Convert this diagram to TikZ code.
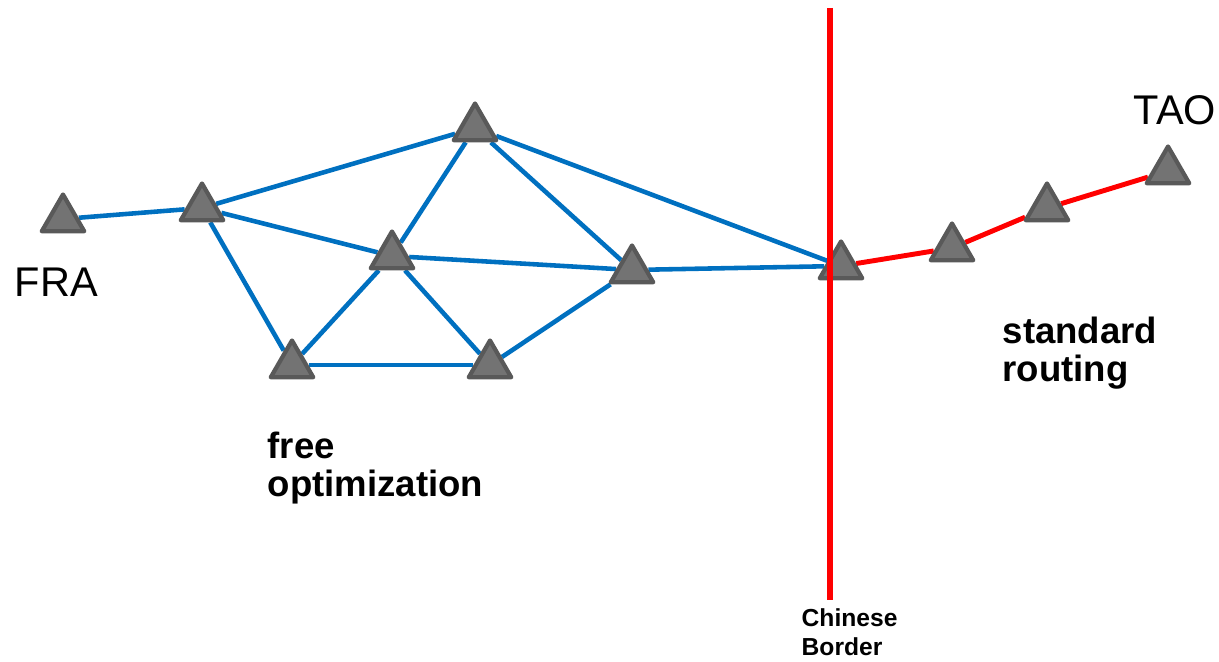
\documentclass[tikz,border=0pt]{standalone}
\usepackage{fontspec}
\setmainfont{Liberation Sans}
\usetikzlibrary{shapes.geometric}
\pgfdeclarelayer{background}
\pgfsetlayers{background,main}
\definecolor{linkblue}{HTML}{0070C0}
\definecolor{nodegray}{HTML}{737373}
\definecolor{nodeedge}{HTML}{595959}
\tikzset{
  site/.style={regular polygon, regular polygon sides=3, minimum size=0.49cm,
    inner sep=0pt, fill=nodegray, draw=nodeedge, line width=1.2pt, line join=round},
  free/.style={linkblue, line width=1.3pt},
  std/.style={red, line width=1.4pt},
  border/.style={red, line width=1.5pt},
  lbl/.style={anchor=base west, inner sep=0pt, align=left}
}
\begin{document}
\begin{tikzpicture}[x=0.01cm, y=-0.01cm]
  \useasboundingbox (0,0) rectangle (1219,662);
  % sites
  \node[site] (fra) at (63,219) {};
  \node[site] (a) at (202,208) {};
  \node[site] (b) at (475,128) {};
  \node[site] (c) at (392,256) {};
  \node[site] (d) at (632,270) {};
  \node[site] (e) at (292,365) {};
  \node[site] (f) at (490,365) {};
  \node[site] (g) at (841,266) {};
  \node[site] (h) at (952,248) {};
  \node[site] (i) at (1047,208) {};
  \node[site] (tao) at (1168,171) {};
  \begin{pgfonlayer}{background}
    \draw[free] (fra) -- (a);
    \draw[free] (a) -- (b);
    \draw[free] (a) -- (c);
    \draw[free] (a) -- (e);
    \draw[free] (b) -- (c);
    \draw[free] (b) -- (d);
    \draw[free] (b) -- (g);
    \draw[free] (c) -- (d);
    \draw[free] (c) -- (e);
    \draw[free] (c) -- (f);
    \draw[free] (e) -- (f);
    \draw[free] (f) -- (d);
    \draw[free] (d) -- (g);
    \draw[std] (g) -- (h);
    \draw[std] (h) -- (i);
    \draw[std] (i) -- (tao);
  \end{pgfonlayer}
  % border line
  \coordinate (btop) at (830,8);
  \coordinate (bbot) at (830,600);
  \draw[border] (btop) -- (bbot);
  % labels
  \node[lbl, font=\fontsize{11.8}{14}\selectfont] (fralbl) at (14,297) {FRA};
  \node[lbl, font=\fontsize{11.8}{14}\selectfont] (taolbl) at (1133,125) {TAO};
  \node[lbl, font=\fontsize{10.4}{10.9}\selectfont\bfseries] (freelbl) at (267,497) {free\\optimization};
  \node[lbl, font=\fontsize{10.4}{10.9}\selectfont\bfseries] (stdlbl) at (1002,382) {standard\\routing};
  \node[lbl, font=\fontsize{7}{8.3}\selectfont\bfseries] (borderlbl) at (801,656) {Chinese\\Border};
\end{tikzpicture}
\end{document}
